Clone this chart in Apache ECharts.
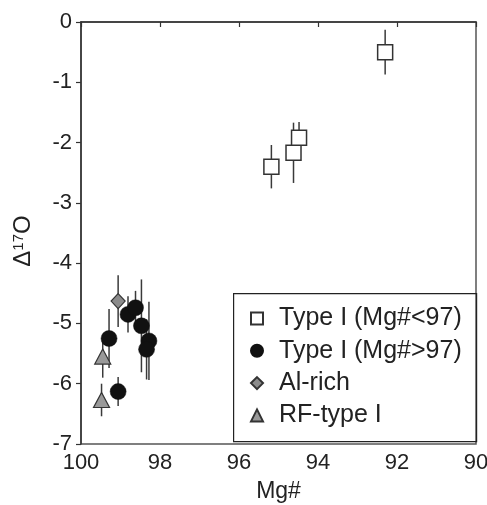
<!DOCTYPE html>
<html>
<head>
<meta charset="utf-8">
<script src="https://cdn.jsdelivr.net/npm/echarts@6/dist/echarts.min.js"></script>
<style>
html,body{margin:0;padding:0;background:#fff;}
#chart{width:487px;height:505px;}
</style>
</head>
<body>
<div id="chart"></div>
<script>
// Data
const typeILowX = [92.30, 95.18, 94.62, 94.48];
const typeILowY = [-0.50, -2.40, -2.17, -1.92];
const typeILowErr = [0.37, 0.36, 0.50, 0.26];

const typeIHighX = [99.29, 99.06, 98.81, 98.62, 98.47, 98.28, 98.34];
const typeIHighY = [-5.25, -6.13, -4.85, -4.74, -5.04, -5.29, -5.43];
const typeIHighErr = [0.49, 0.24, 0.30, 0.28, 0.77, 0.65, 0.50];

const alRichX = [99.06];
const alRichY = [-4.63];
const alRichErr = [0.43];

const rfX = [99.45, 99.48];
const rfY = [-5.55, -6.27];
const rfErr = [0.35, 0.27];

const seriesNames = ['Type I (Mg#<97)', 'Type I (Mg#>97)', 'Al-rich', 'RF-type I'];
const xTicks = [90, 92, 94, 96, 98, 100];
const yTicks = [-7, -6, -5, -4, -3, -2, -1, 0];

function pts(xs, ys) { return xs.map((x, i) => [x, ys[i]]); }
function errPts(xs, ys, es) { return xs.map((x, i) => [x, ys[i], es[i]]); }

const FONT = 'Liberation Sans, Arial, sans-serif';
const chart = echarts.init(document.getElementById('chart'), null, {renderer: 'canvas'});

const errData = [].concat(
  errPts(typeILowX, typeILowY, typeILowErr),
  errPts(typeIHighX, typeIHighY, typeIHighErr),
  errPts(alRichX, alRichY, alRichErr),
  errPts(rfX, rfY, rfErr)
);

chart.setOption({
  animation: false,
  backgroundColor: '#fff',
  grid: {left: 81, right: 11, top: 22, bottom: 61, show: true, borderColor: '#555', borderWidth: 1.5,
         backgroundColor: 'transparent', containLabel: false, outerBoundsMode: 'none'},
  xAxis: {
    type: 'value', min: xTicks[0], max: xTicks[xTicks.length - 1], interval: 2, inverse: true,
    position: 'bottom',
    name: 'Mg#', nameLocation: 'middle', nameGap: 36,
    nameTextStyle: {fontFamily: FONT, fontSize: 23, color: '#222'},
    axisLine: {show: true, lineStyle: {color: '#333', width: 1.5}},
    axisTick: {show: true, inside: false, length: 5, lineStyle: {color: '#333', width: 1.2}},
    axisLabel: {fontFamily: FONT, fontSize: 22, color: '#222', margin: 8},
    splitLine: {show: false}
  },
  yAxis: {
    type: 'value', min: yTicks[0], max: yTicks[yTicks.length - 1], interval: 1,
    position: 'left',
    name: '{a|Δ}{sup|17}{a|O}', nameLocation: 'middle', nameGap: 45, nameRotate: 90,
    nameTextStyle: {
      fontFamily: FONT, fontSize: 24, color: '#222', padding: [0, 16, 0, 0],
      rich: {
        a: {fontFamily: FONT, fontSize: 24, color: '#222'},
        sup: {fontFamily: FONT, fontSize: 15, color: '#222', verticalAlign: 'top', padding: [0, 0, 10, 0]}
      }
    },
    axisLine: {show: true, lineStyle: {color: '#333', width: 1.5}},
    axisTick: {show: true, inside: false, length: 5, lineStyle: {color: '#333', width: 1.2}},
    axisLabel: {fontFamily: FONT, fontSize: 22, color: '#222', margin: 9},
    splitLine: {show: false}
  },
  legend: {
    data: seriesNames,
    orient: 'vertical',
    left: 250, top: 306,
    padding: 0,
    itemWidth: 12, itemHeight: 12,
    itemGap: 7.3,
    textStyle: {fontFamily: FONT, fontSize: 25, color: '#222', lineHeight: 25, padding: [0, 0, 0, 11]},
    selectedMode: false
  },
  graphic: [{
    type: 'rect', left: 233, top: 293, z: 50,
    shape: {width: 243, height: 148},
    style: {fill: 'rgba(0,0,0,0)', stroke: '#222', lineWidth: 1.2},
    silent: true
  }],
  series: [
    {
      type: 'custom', name: 'err', z: 1,
      data: errData, clip: false,
      encode: {x: 0, y: 1},
      renderItem: function (params, api) {
        const x = api.value(0), y = api.value(1), e = api.value(2);
        const p1 = api.coord([x, y + e]);
        const p2 = api.coord([x, y - e]);
        return {type: 'line', shape: {x1: p1[0], y1: p1[1], x2: p2[0], y2: p2[1]},
                style: {stroke: '#3a3a3a', lineWidth: 1.5}};
      }
    },
    {
      type: 'scatter', name: seriesNames[0], z: 3,
      data: pts(typeILowX, typeILowY),
      symbol: 'rect', symbolSize: 15,
      itemStyle: {color: '#fff', borderColor: '#333', borderWidth: 1.5, opacity: 1}
    },
    {
      type: 'scatter', name: seriesNames[1], z: 3,
      data: pts(typeIHighX, typeIHighY),
      symbol: 'circle', symbolSize: 16,
      itemStyle: {color: '#111', borderColor: '#111', borderWidth: 0.5, opacity: 1}
    },
    {
      type: 'scatter', name: seriesNames[2], z: 3,
      data: pts(alRichX, alRichY),
      symbol: 'diamond', symbolSize: [14, 15],
      itemStyle: {color: '#8c8c8c', borderColor: '#333', borderWidth: 1.2, opacity: 1}
    },
    {
      type: 'scatter', name: seriesNames[3], z: 3,
      data: pts(rfX, rfY),
      symbol: 'triangle', symbolSize: [16, 15],
      itemStyle: {color: '#999', borderColor: '#333', borderWidth: 1.2, opacity: 1}
    }
  ]
});
</script>
</body>
</html>
